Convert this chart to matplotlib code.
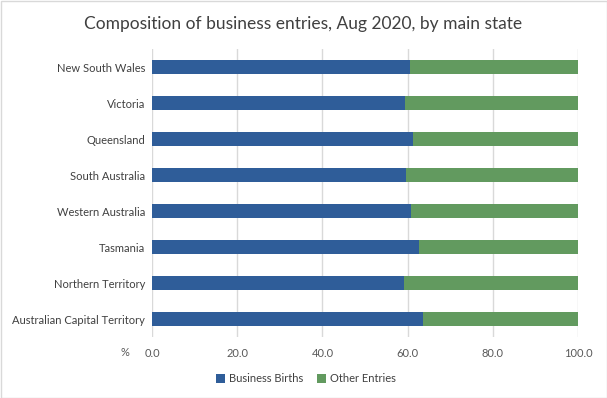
import matplotlib
matplotlib.use("Agg")
import matplotlib.pyplot as plt
import numpy as np

states = ["New South Wales", "Victoria", "Queensland", "South Australia",
          "Western Australia", "Tasmania", "Northern Territory",
          "Australian Capital Territory"]
business_births = [60.6, 59.4, 61.3, 59.6, 60.8, 62.7, 59.2, 63.6]
other_entries = [100 - v for v in business_births]
xticks = [0, 20, 40, 60, 80, 100]

plt.rcParams['font.family'] = ['Lato', 'DejaVu Sans']

W, H = 607, 398
fig = plt.figure(figsize=(W/100, H/100), dpi=100)
fig.patch.set_facecolor('white')
ax = fig.add_axes([152/W, (H-337)/H, (578-152)/W, (337-49)/H])

y = np.arange(len(states))
blue = '#2F5D99'
green = '#629A5F'
ax.barh(y, business_births, height=0.4, color=blue, label='Business Births', zorder=3)
ax.barh(y, other_entries, left=business_births, height=0.4, color=green, label='Other Entries', zorder=3)

ax.set_ylim(len(states)-0.5, -0.5)
ax.set_xlim(0, 100)
ax.set_yticks(y)
ax.set_yticklabels(states, fontsize=8, color='#404040')
ax.set_xticks(xticks)
ax.set_xticklabels([f"{v:.1f}" for v in xticks], fontsize=8, color='#595959')
ax.tick_params(axis='both', length=0, pad=5)
ax.tick_params(axis='x', pad=8)
ax.grid(axis='x', color='#D9D9D9', linewidth=1, zorder=0)
for s in ax.spines.values():
    s.set_visible(False)

fig.text(125/W, 1-352/H, '%', fontsize=8, color='#595959', ha='center', va='center')
fig.text(0.5, 1-24/H, 'Composition of business entries, Aug 2020, by main state',
         fontsize=12.5, color='#404040', ha='center', va='center')

leg = fig.legend(loc='center', bbox_to_anchor=(306/W, 1-379/H), ncol=2, frameon=False,
                 fontsize=8, handlelength=0.8, handleheight=0.8, columnspacing=1.2,
                 handletextpad=0.4, labelcolor='#404040')

border = plt.Rectangle((0.5/W, 0.5/H), 1-1/W, 1-1/H, transform=fig.transFigure,
                       fill=False, edgecolor='#D9D9D9', linewidth=1)
fig.patches.append(border)

fig.savefig('out.png', dpi=100)
